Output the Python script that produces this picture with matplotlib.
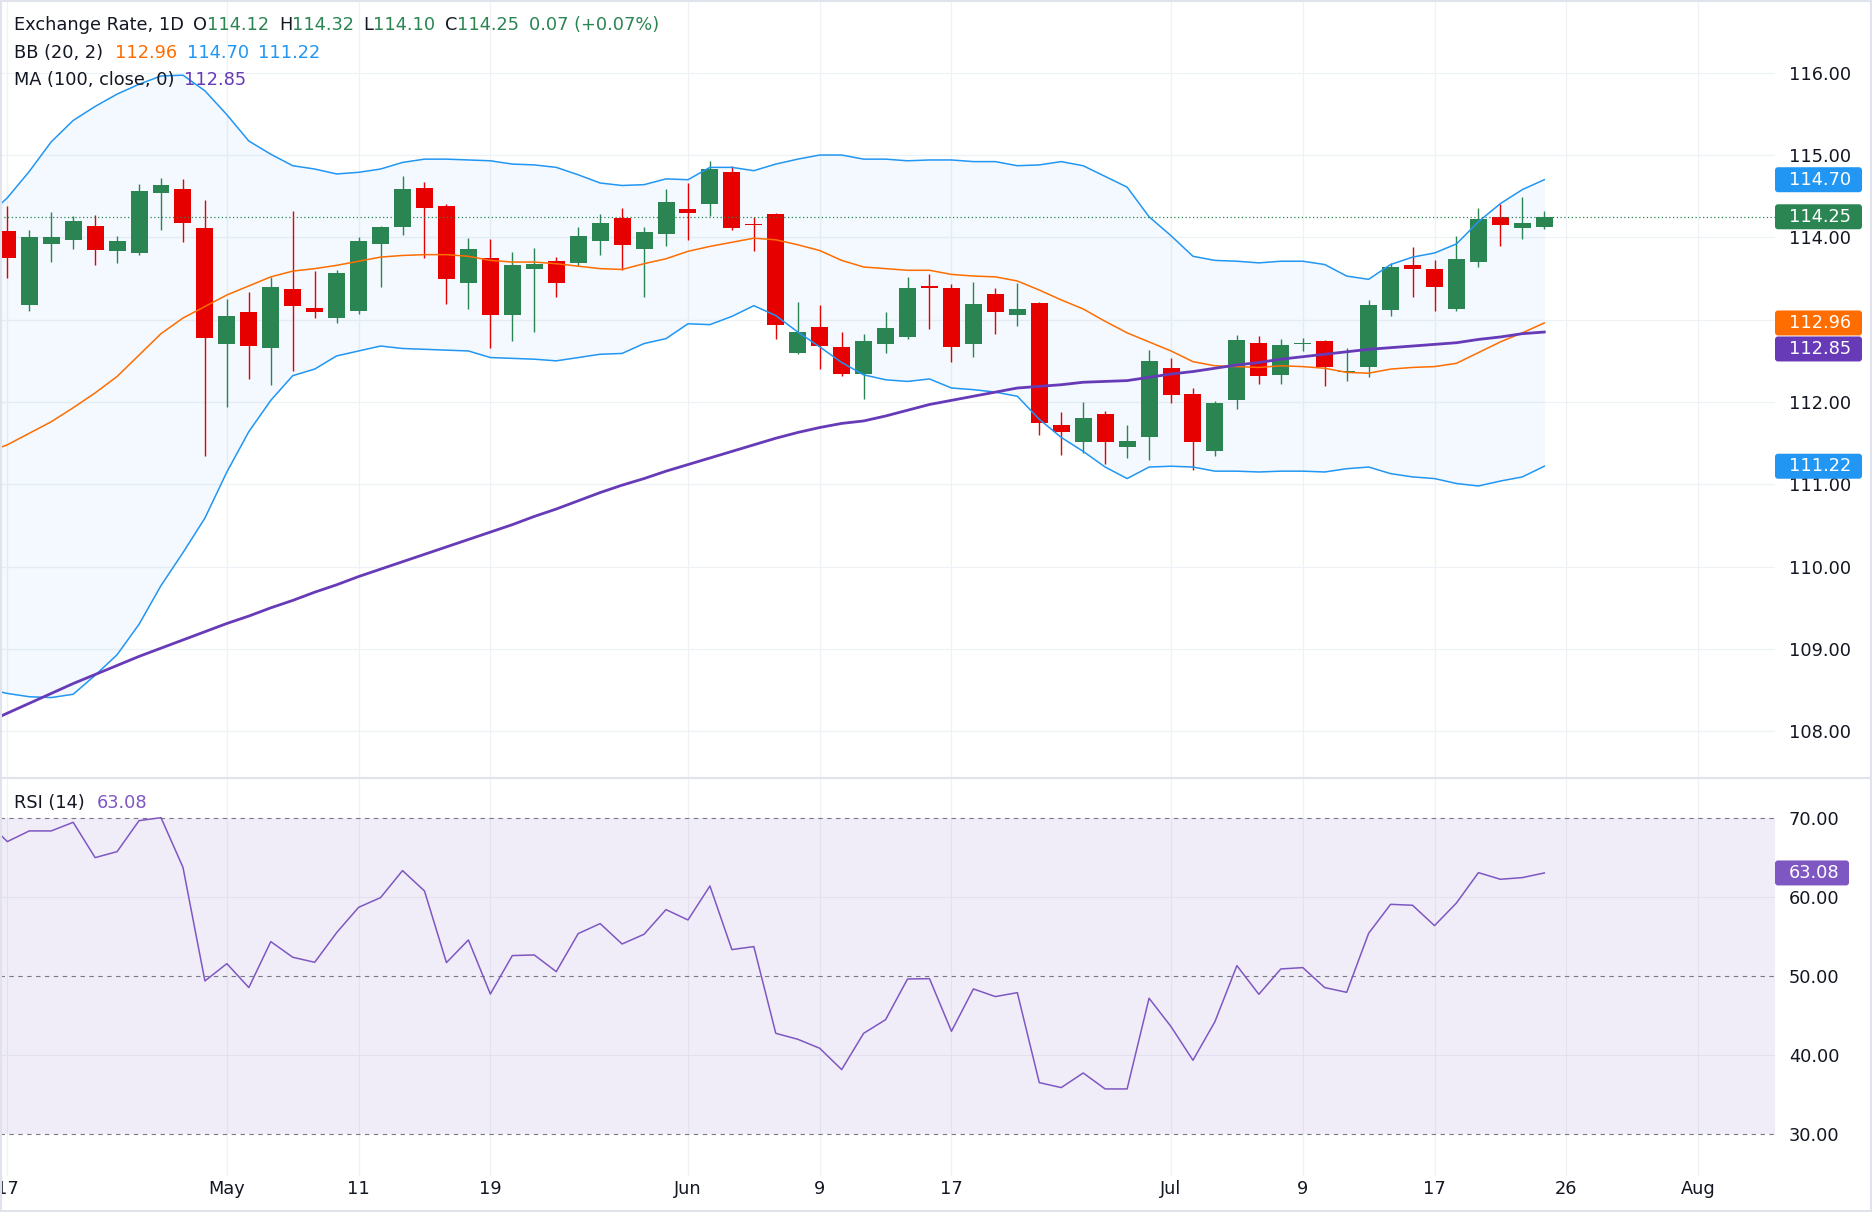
import numpy as np
import matplotlib
matplotlib.use("Agg")
import matplotlib.pyplot as plt
from matplotlib.patches import FancyBboxPatch, Rectangle
from matplotlib.lines import Line2D
from matplotlib.transforms import IdentityTransform

W, H, DPI = 1872, 1223, 100
PLOT_R = 1775      # right edge of plot area (px)
SPLIT = 778        # price / RSI border (px from top)
RSI_BOT = 1176     # bottom of RSI pane (px from top)
X0, DX = 7.3, 21.957   # px of first candle, px per candle
FS = 12.8

# ── Data ─────────────────────────────────────────────────────────────────────
opens  = [114.08,113.18,113.92,113.97,114.14,113.83,113.81,114.54,114.59,114.11,
          112.70,113.09,112.66,113.37,113.14,113.02,113.11,113.92,114.13,114.60,
          114.38,113.45,113.75,113.06,113.62,113.71,113.69,113.96,114.23,113.86,
          114.04,114.34,114.40,114.79,114.16,114.28,112.60,112.91,112.67,112.34,
          112.70,112.79,113.41,113.38,112.70,113.31,113.06,113.20,111.72,111.52,
          111.85,111.45,111.57,112.41,112.10,111.41,112.02,112.72,112.33,112.70,
          112.74,112.36,112.42,113.12,113.66,113.62,113.13,113.70,114.25,114.11,
          114.12]
highs  = [114.38,114.09,114.31,114.26,114.27,114.02,114.65,114.72,114.71,114.45,
          113.25,113.34,113.52,114.32,113.59,113.60,114.00,114.14,114.74,114.67,
          114.40,113.99,113.98,113.82,113.87,113.76,114.13,114.28,114.36,114.13,
          114.59,114.66,114.93,114.87,114.25,114.29,113.21,113.18,112.85,112.83,
          113.09,113.52,113.55,113.43,113.46,113.38,113.45,113.21,111.88,112.00,
          111.89,111.72,112.63,112.53,112.17,112.01,112.81,112.80,112.77,112.78,
          112.75,112.66,113.24,113.69,113.88,113.72,114.02,114.36,114.40,114.49,
          114.32]
lows   = [113.51,113.10,113.70,113.86,113.67,113.69,113.79,114.09,113.94,111.34,
          111.94,112.28,112.21,112.38,113.02,112.96,113.07,113.40,114.03,113.75,
          113.19,113.13,112.65,112.74,112.85,113.28,113.65,113.79,113.60,113.28,
          113.90,113.97,114.26,114.09,113.84,112.76,112.58,112.40,112.32,112.04,
          112.60,112.77,112.89,112.49,112.55,112.82,112.92,111.60,111.36,111.38,
          111.25,111.32,111.30,111.99,111.17,111.34,111.92,112.22,112.22,112.62,
          112.20,112.25,112.30,113.04,113.28,113.11,113.11,113.64,113.89,113.98,
          114.10]
closes = [113.75,114.00,114.00,114.20,113.85,113.96,114.56,114.64,114.17,112.78,
          113.04,112.68,113.40,113.17,113.09,113.57,113.96,114.13,114.59,114.36,
          113.49,113.86,113.06,113.66,113.68,113.44,114.02,114.17,113.91,114.06,
          114.43,114.30,114.83,114.11,114.15,112.94,112.85,112.68,112.34,112.74,
          112.90,113.38,113.39,112.67,113.19,113.09,113.13,111.75,111.64,111.81,
          111.52,111.53,112.50,112.09,111.52,111.99,112.75,112.32,112.69,112.71,
          112.43,112.38,113.18,113.64,113.62,113.40,113.74,114.22,114.15,114.18,
          114.25]

# indicator lines start one bar before the first visible candle
line_x = np.arange(-1, 71)
bb_upper = [114.23,114.48,114.80,115.16,115.42,115.59,115.74,115.86,115.96,115.97,
            115.78,115.49,115.17,115.01,114.87,114.83,114.77,114.79,114.83,114.91,
            114.95,114.95,114.94,114.93,114.89,114.88,114.85,114.76,114.66,114.63,
            114.64,114.71,114.70,114.85,114.85,114.81,114.89,114.95,115.00,115.00,
            114.95,114.95,114.93,114.94,114.94,114.92,114.92,114.87,114.88,114.92,
            114.87,114.74,114.61,114.25,114.02,113.77,113.72,113.71,113.69,113.71,
            113.71,113.67,113.53,113.49,113.67,113.76,113.81,113.92,114.19,114.41,
            114.58,114.70]
bb_mid   = [111.38,111.48,111.62,111.76,111.93,112.11,112.31,112.57,112.83,113.02,
            113.16,113.30,113.41,113.52,113.59,113.62,113.66,113.71,113.76,113.78,
            113.79,113.79,113.77,113.72,113.70,113.70,113.68,113.65,113.62,113.61,
            113.68,113.74,113.83,113.89,113.94,113.99,113.97,113.91,113.84,113.72,
            113.64,113.62,113.60,113.60,113.55,113.53,113.52,113.47,113.36,113.24,
            113.13,112.98,112.84,112.73,112.62,112.49,112.44,112.43,112.42,112.44,
            112.43,112.41,112.36,112.35,112.40,112.42,112.43,112.47,112.60,112.73,
            112.84,112.96]
bb_lower = [108.52,108.46,108.42,108.41,108.45,108.68,108.93,109.30,109.77,110.17,
            110.59,111.15,111.64,112.02,112.32,112.40,112.56,112.62,112.68,112.65,
            112.64,112.63,112.62,112.54,112.53,112.52,112.50,112.54,112.58,112.59,
            112.71,112.77,112.95,112.94,113.04,113.17,113.05,112.85,112.67,112.48,
            112.33,112.27,112.25,112.28,112.17,112.15,112.12,112.07,111.79,111.57,
            111.40,111.21,111.07,111.21,111.22,111.21,111.16,111.16,111.15,111.16,
            111.16,111.15,111.19,111.21,111.13,111.09,111.07,111.01,110.98,111.04,
            111.09,111.22]
ma100    = [108.10,108.22,108.34,108.46,108.58,108.69,108.80,108.91,109.01,109.11,
            109.21,109.31,109.40,109.50,109.59,109.69,109.78,109.88,109.97,110.06,
            110.15,110.24,110.33,110.42,110.51,110.61,110.70,110.80,110.90,110.99,
            111.07,111.16,111.24,111.32,111.40,111.48,111.56,111.63,111.69,111.74,
            111.77,111.83,111.90,111.97,112.02,112.07,112.12,112.17,112.19,112.21,
            112.24,112.25,112.26,112.30,112.34,112.37,112.41,112.45,112.48,112.52,
            112.55,112.58,112.61,112.64,112.66,112.68,112.70,112.72,112.76,112.79,
            112.83,112.85]
rsi      = [69.80,67.05,68.40,68.40,69.49,65.02,65.78,69.70,70.08,63.80,
            49.41,51.60,48.57,54.39,52.41,51.77,55.53,58.73,59.96,63.38,
            60.80,51.73,54.60,47.76,52.62,52.70,50.59,55.40,56.67,54.09,
            55.32,58.44,57.13,61.43,53.38,53.76,42.78,42.03,40.89,38.19,
            42.78,44.51,49.66,49.70,43.04,48.40,47.43,47.93,36.54,35.91,
            37.76,35.74,35.74,47.22,43.63,39.37,44.26,51.35,47.72,50.93,
            51.10,48.57,47.97,55.44,59.11,58.99,56.41,59.28,63.12,62.28,
            62.49,63.08]

date_idx    = [0, 10, 16, 22, 31, 37, 43, 53, 59, 65, 71, 77]
date_labels = ["17", "May", "11", "19", "Jun", "9", "17", "Jul", "9", "17", "26", "Aug"]
price_ticks = [108, 109, 110, 111, 112, 113, 114, 115, 116]
rsi_ticks   = [30, 40, 50, 60, 70]

GREEN, RED = "#2b8553", "#e60000"
BLUE, ORANGE, PURPLE, RSI_COL = "#2196f3", "#ff6d00", "#673ab7", "#7e57c2"
TXT, GRID = "#131722", "#eef1f6"

o, h, l, c = map(np.array, (opens, highs, lows, closes))
idx = np.arange(len(o))
cols = np.where(c >= o, GREEN, RED)

fig = plt.figure(figsize=(W / DPI, H / DPI), dpi=DPI, facecolor="white")
ax = fig.add_axes([0, 1 - SPLIT / H, PLOT_R / W, SPLIT / H])
ax2 = fig.add_axes([0, 1 - RSI_BOT / H, PLOT_R / W, (RSI_BOT - SPLIT) / H])

xlim = (-X0 / DX, (PLOT_R - X0) / DX)
for a in (ax, ax2):
    a.set_xlim(*xlim)
    a.set_facecolor("none")
    a.set_axisbelow(True)
    for sp in a.spines.values():
        sp.set_visible(False)
    a.set_xticks(date_idx)
    a.tick_params(axis="both", length=0, labelsize=FS, labelcolor=TXT)
    a.tick_params(axis="y", left=False, labelleft=False, right=False,
                  labelright=True, pad=10)
    a.grid(axis="x", color=GRID, lw=0.9)

# ── price pane ───────────────────────────────────────────────────────────────
ax.set_ylim(107.433, 116.883)
ax.set_yticks(price_ticks)
ax.set_yticklabels([f"{v:.2f}" for v in price_ticks])
ax.tick_params(axis="x", labelbottom=False)
ax.grid(axis="y", color=GRID, lw=0.9)

ax.fill_between(line_x, bb_lower, bb_upper, color=BLUE, alpha=0.05, lw=0, zorder=1)
ax.vlines(idx, l, h, colors=cols, lw=1.0, zorder=2)
ax.bar(idx, np.maximum(np.abs(c - o), 0.016), bottom=np.minimum(o, c),
       width=0.774, color=cols, lw=0, zorder=2)
ax.plot(line_x, bb_upper, color=BLUE, lw=1.1, zorder=3)
ax.plot(line_x, bb_lower, color=BLUE, lw=1.1, zorder=3)
ax.plot(line_x, bb_mid, color=ORANGE, lw=1.1, zorder=3)
ax.plot(line_x, ma100, color=PURPLE, lw=2.0, zorder=3)
ax.axhline(closes[-1], color=GREEN, lw=0.9, linestyle=(0, (1, 2)), zorder=3)

# ── RSI pane ─────────────────────────────────────────────────────────────────
ax2.set_ylim(24.72, 75.10)
ax2.set_yticks(rsi_ticks)
ax2.set_yticklabels([f"{v:.2f}" for v in rsi_ticks])
ax2.set_xticklabels(date_labels)
ax2.tick_params(axis="x", pad=3)
for v in (40, 60):
    ax2.axhline(v, color=GRID, lw=0.9, zorder=0.5)
ax2.axhspan(30, 70, color=RSI_COL, alpha=0.1, lw=0, zorder=1)
for v in (30, 50, 70):
    ax2.axhline(v, color="#787b86", lw=0.8, linestyle=(0, (4, 4)), zorder=2)
ax2.plot(line_x, rsi, color=RSI_COL, lw=1.1, zorder=3)


# ── legend-style header texts ────────────────────────────────────────────────
def header(a, y_px, parts):
    prev = None
    for s, col, gap in parts:
        if prev is None:
            prev = a.text(14 / W, 1 - y_px / H, s, transform=fig.transFigure,
                          color=col, fontsize=FS, va="center", ha="left")
        else:
            prev = a.annotate(s, xy=(1, 0.5), xycoords=prev, xytext=(gap, 0),
                              textcoords="offset points", color=col, fontsize=FS,
                              va="center", ha="left", annotation_clip=False)


G = 6.8
header(ax, 25, [("Exchange Rate, 1D", TXT, 0), ("O", TXT, G), ("114.12", GREEN, 0),
                ("H", TXT, G), ("114.32", GREEN, 0), ("L", TXT, G), ("114.10", GREEN, 0),
                ("C", TXT, G), ("114.25", GREEN, 0), ("0.07 (+0.07%)", GREEN, G)])
header(ax, 52.5, [("BB (20, 2)", TXT, 0), ("112.96", ORANGE, G + 2),
                  ("114.70", BLUE, G), ("111.22", BLUE, G)])
header(ax, 80, [("MA (100, close, 0)", TXT, 0), ("112.85", PURPLE, G)])
header(ax2, 803.5, [("RSI (14)", TXT, 0), ("63.08", RSI_COL, G + 2)])


# ── value badges on the price scale ──────────────────────────────────────────
def badges(a, items, width):
    ys = [(a.transData.transform((0, v))[1], v, col) for v, col in items]
    ys.sort(key=lambda t: -t[0])
    last = None
    for y, v, col in ys:
        if last is not None and y > last - 26:
            y = last - 26
        last = y
        fig.add_artist(FancyBboxPatch((PLOT_R, y - 12.5), width, 25,
                                      boxstyle="round,pad=0,rounding_size=3",
                                      fc=col, ec="none", transform=IdentityTransform(),
                                      zorder=5))
        fig.text(1789, y, f"{v:.2f}", color="white", fontsize=FS, va="center",
                 ha="left", transform=IdentityTransform(), zorder=6)


badges(ax, [(bb_upper[-1], BLUE), (closes[-1], GREEN), (bb_mid[-1], ORANGE),
            (ma100[-1], PURPLE), (bb_lower[-1], BLUE)], 87)
badges(ax2, [(rsi[-1], RSI_COL)], 74)

# frame and pane separator
fig.add_artist(Rectangle((1, 12), W - 2, H - 13, fill=False, ec="#e0e3eb", lw=1.5,
                         transform=IdentityTransform(), zorder=4))
fig.add_artist(Line2D([0, W], [H - SPLIT, H - SPLIT], color="#e0e3eb", lw=1.5,
                      transform=IdentityTransform(), zorder=4))

fig.savefig("out.png", dpi=DPI, facecolor="white")
plt.close(fig)
